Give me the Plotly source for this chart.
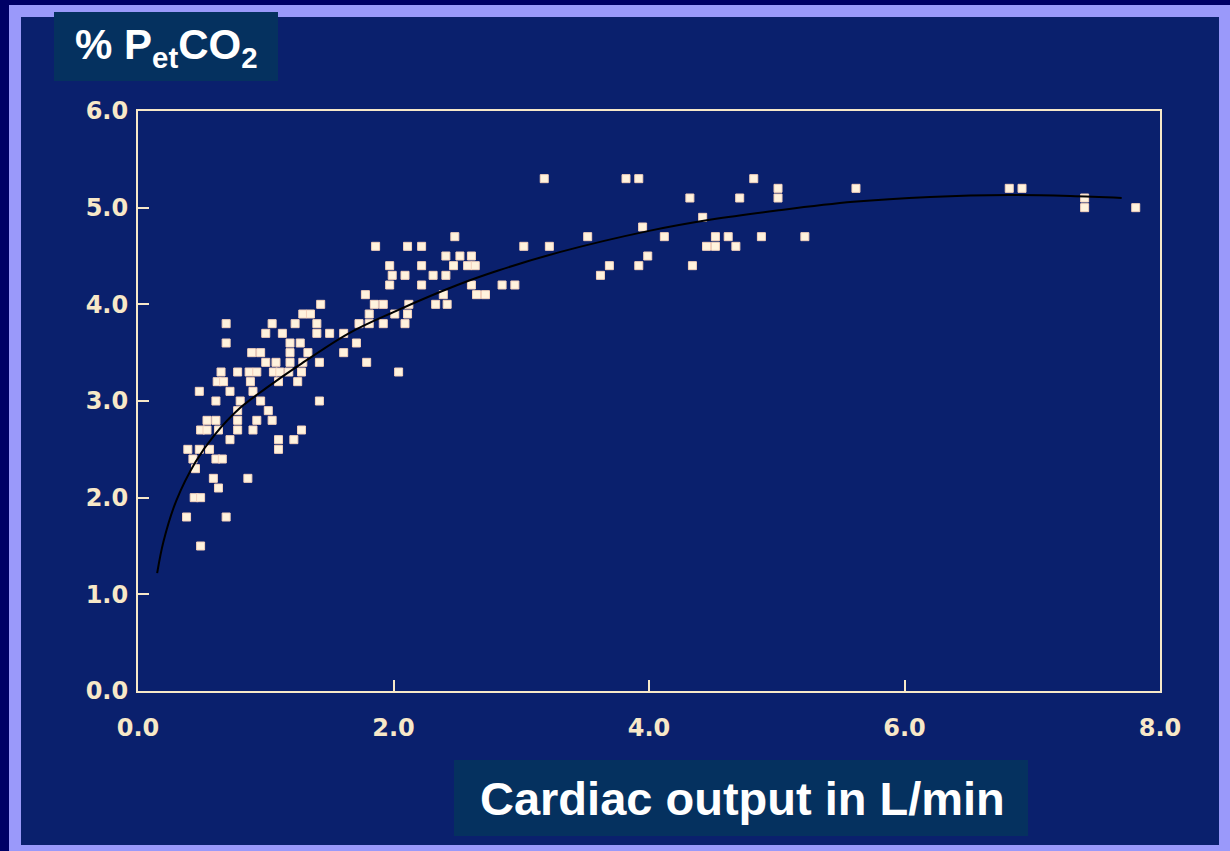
import plotly.graph_objects as go

# ---- data ----
cardiac_output = [
    1.43, 1.29, 1.35, 0.69, 1.05, 1.23, 1.40, 1.00, 1.13, 1.40, 1.50, 1.61, 0.69, 1.19, 1.27,
    0.89, 0.96, 1.19, 1.33, 1.61, 1.00, 1.08, 1.19, 1.29, 1.42, 0.65, 0.78, 0.87, 0.93, 1.06,
    1.11, 1.18, 1.28, 0.62, 0.67, 0.88, 1.10, 1.25, 0.48, 0.72, 0.90, 0.61, 0.80, 0.96, 1.42,
    0.78, 1.02, 0.54, 0.61, 0.78, 0.93, 1.05, 0.49, 0.54, 0.63, 0.78, 0.90, 1.28, 0.72, 1.10,
    1.22, 0.39, 0.48, 0.56, 1.10, 0.43, 0.61, 0.66, 0.45, 0.59, 0.86, 0.63, 0.44, 0.49, 0.38,
    0.69, 0.49,
    2.48, 1.86, 2.11, 2.22, 3.02, 3.22, 2.41, 2.52, 2.61, 1.97, 2.22, 2.47, 2.58, 2.64, 1.99,
    2.09, 2.31, 2.41, 1.97, 2.22, 2.61, 2.85, 2.95, 1.78, 2.39, 2.65, 2.72, 1.85, 1.92, 2.12,
    2.33, 2.42, 1.81, 2.01, 2.11, 1.73, 1.81, 1.92, 2.09, 1.71, 1.79, 2.04,
    3.18, 3.82, 3.92, 4.82, 5.01, 5.01, 5.62, 4.32, 4.71, 4.42, 3.95, 3.52, 4.12, 4.52, 4.62,
    4.88, 5.22, 4.45, 4.52, 4.68, 3.99, 3.69, 3.92, 4.34, 3.62,
    6.82, 6.92, 7.41, 7.41, 7.81,
]
petco2 = [
    4.0, 3.9, 3.9, 3.8, 3.8, 3.8, 3.8, 3.7, 3.7, 3.7, 3.7, 3.7, 3.6, 3.6, 3.6,
    3.5, 3.5, 3.5, 3.5, 3.5, 3.4, 3.4, 3.4, 3.4, 3.4, 3.3, 3.3, 3.3, 3.3, 3.3,
    3.3, 3.3, 3.3, 3.2, 3.2, 3.2, 3.2, 3.2, 3.1, 3.1, 3.1, 3.0, 3.0, 3.0, 3.0,
    2.9, 2.9, 2.8, 2.8, 2.8, 2.8, 2.8, 2.7, 2.7, 2.7, 2.7, 2.7, 2.7, 2.6, 2.6,
    2.6, 2.5, 2.5, 2.5, 2.5, 2.4, 2.4, 2.4, 2.3, 2.2, 2.2, 2.1, 2.0, 2.0, 1.8,
    1.8, 1.5,
    4.7, 4.6, 4.6, 4.6, 4.6, 4.6, 4.5, 4.5, 4.5, 4.4, 4.4, 4.4, 4.4, 4.4, 4.3,
    4.3, 4.3, 4.3, 4.2, 4.2, 4.2, 4.2, 4.2, 4.1, 4.1, 4.1, 4.1, 4.0, 4.0, 4.0,
    4.0, 4.0, 3.9, 3.9, 3.9, 3.8, 3.8, 3.8, 3.8, 3.6, 3.4, 3.3,
    5.3, 5.3, 5.3, 5.3, 5.2, 5.1, 5.2, 5.1, 5.1, 4.9, 4.8, 4.7, 4.7, 4.7, 4.7,
    4.7, 4.7, 4.6, 4.6, 4.6, 4.5, 4.4, 4.4, 4.4, 4.3,
    5.2, 5.2, 5.1, 5.0, 5.0,
]

# fitted curve, points
fit_x = [0.15, 0.2, 0.3, 0.45, 0.6, 0.8, 1.0, 1.25, 1.65, 2.0, 2.5, 2.82, 3.3, 4.0, 4.5,
         5.0, 5.6, 6.2, 6.82, 7.3, 7.7]
fit_y = [1.22, 1.55, 1.97, 2.37, 2.65, 2.93, 3.13, 3.36, 3.70, 3.92, 4.20, 4.35, 4.54, 4.76, 4.88,
         4.97, 5.06, 5.11, 5.13, 5.12, 5.10]

x_ticks = [0, 2, 4, 6, 8]
x_ticklabels = ["0.0", "2.0", "4.0", "6.0", "8.0"]
y_ticks = [0, 1, 2, 3, 4, 5, 6]
y_ticklabels = ["0.0", "1.0", "2.0", "3.0", "4.0", "5.0", "6.0"]

y_title = "<b>% P<sub>et</sub>CO<sub>2</sub></b>"
x_title = "<b>Cardiac output in L/min</b>"

# ---- layout geometry (pixels) ----
W, H = 1230, 851
L, R, T, B = 138, 1160, 111, 691


def px(x):
    return (x - L) / (R - L)


def py(y):
    return (B - y) / (B - T)


CREAM = "#f7e8c8"
fig = go.Figure()

fig.add_trace(go.Scatter(
    x=cardiac_output, y=petco2, mode="markers",
    marker=dict(symbol="square", size=8, color="#fff3de",
                line=dict(width=1, color="#f4d2bd")),
    showlegend=False, hoverinfo="x+y"))

fig.add_trace(go.Scatter(
    x=fit_x, y=fit_y, mode="lines", line=dict(color="black", width=2, shape="spline"),
    showlegend=False, hoverinfo="skip"))

shapes = [
    # lavender frame
    dict(type="rect", xref="paper", yref="paper", x0=px(9), x1=px(1240), y0=py(5), y1=py(870),
         fillcolor="#9a99fa", line=dict(width=0), layer="below"),
    # photo area
    dict(type="rect", xref="paper", yref="paper", x0=px(21), x1=px(1219), y0=py(17), y1=py(845),
         fillcolor="#0a206d", line=dict(width=0), layer="below"),
    # title boxes
    dict(type="rect", xref="paper", yref="paper", x0=px(54), x1=px(278), y0=py(12), y1=py(81),
         fillcolor="#05315f", line=dict(width=0), layer="below"),
    dict(type="rect", xref="paper", yref="paper", x0=px(454), x1=px(1028), y0=py(760), y1=py(836),
         fillcolor="#05315f", line=dict(width=0), layer="below"),
]

annotations = [
    dict(text=y_title, xref="paper", yref="paper", x=px(166), y=py(48), xanchor="center",
         yanchor="middle", showarrow=False,
         font=dict(family="Liberation Sans, Arial", size=42, color="white")),
    dict(text=x_title, xref="paper", yref="paper", x=px(742), y=py(798), xanchor="center",
         yanchor="middle", showarrow=False,
         font=dict(family="Liberation Sans, Arial", size=47, color="white")),
]

tickfont = dict(family="DejaVu Sans", size=24, color=CREAM, weight="bold")

fig.update_layout(
    width=W, height=H,
    margin=dict(l=L, r=W - R, t=T, b=H - B, pad=0),
    paper_bgcolor="#000066",
    plot_bgcolor="rgba(0,0,0,0)",
    shapes=shapes,
    annotations=annotations,
    xaxis=dict(range=[0, 8], tickvals=x_ticks, ticktext=x_ticklabels, ticks="inside",
               ticklen=11, tickwidth=2, tickcolor=CREAM, showline=True, linecolor=CREAM,
               linewidth=2, mirror=True, showgrid=False, zeroline=False, tickfont=tickfont,
               ticklabelstandoff=14),
    yaxis=dict(range=[0, 6], tickvals=y_ticks, ticktext=y_ticklabels, ticks="inside",
               ticklen=11, tickwidth=2, tickcolor=CREAM, showline=True, linecolor=CREAM,
               linewidth=2, mirror=True, showgrid=False, zeroline=False, tickfont=tickfont,
               ticklabelstandoff=3),
)

fig.write_html("out.html")
